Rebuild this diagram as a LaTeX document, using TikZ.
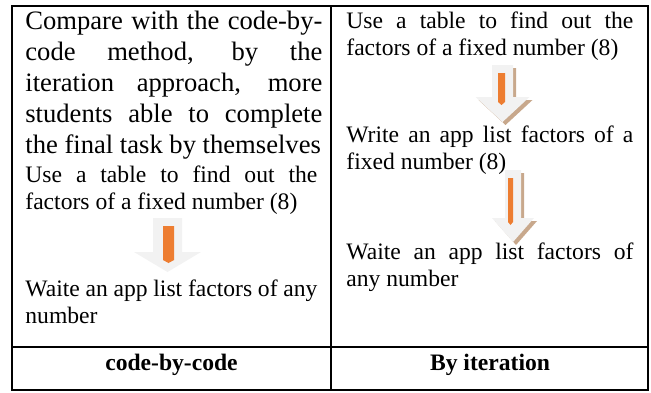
\documentclass[tikz,border=0pt]{standalone}
\usepackage{fontspec}
\setmainfont{Liberation Serif}
\definecolor{arrowgrey}{HTML}{F2F2F2}
\definecolor{arrowtan}{HTML}{C8A88C}
\definecolor{barorange}{HTML}{ED7D31}
% block arrow: #1 centre x, #2 top, #3 half shaft, #4 half head, #5 head base, #6 tip, #7 colour
\newcommand{\blockarrow}[7]{%
  \fill[#7] ({#1-#3},#2) -- ({#1+#3},#2) -- ({#1+#3},#5) -- ({#1+#4},#5) -- (#1,#6)
    -- ({#1-#4},#5) -- ({#1-#3},#5) -- cycle;}
% orange bar: #1 centre x, #2 top, #3 half width, #4 bottom
\newcommand{\orangebar}[4]{%
  \fill[barorange] ({#1-#3},#2) -- ({#1+#3},#2) -- ({#1+#3},#4) -- (#1,{#4+3})
    -- ({#1-#3},#4) -- cycle;}
\tikzset{
  celltext/.style = {anchor=base west, inner sep=0pt, align=justify,
    font=\fontsize{11.8}{13.5}\selectfont},
  cell_big/.style = {celltext, text width=148.5pt, font=\fontsize{13.3}{15.6}\selectfont},% upper left text
  cell_l/.style = {celltext, text width=146pt},% left column
  cell_r/.style = {celltext, text width=143.5pt},% right column
  cell_foot/.style = {anchor=base, inner sep=0pt, font=\fontsize{11.8}{13.5}\selectfont\bfseries}
}

\begin{document}
\begin{tikzpicture}[x=0.5pt, y=-0.5pt]
  \useasboundingbox (0,0) rectangle (651,392);
  % table frame
  \draw[line width=1pt] (12,6) rectangle (648,390);
  \draw[line width=1pt] (331,6) -- (331,390);
  \draw[line width=1pt] (12,347) -- (648,347);

  % left column
  \node [cell_big] (summary) at (25,29) {Compare with the code-by-\linebreak
    code method, by the\linebreak iteration approach, more\linebreak
    students able to complete\linebreak the final task by themselves};
  \node [cell_l] (lstep1) at (25,182) {Use a table to find out the\linebreak
    factors of a fixed number (8)};
  \blockarrow{167.5}{218}{14.5}{33.5}{252}{272}{arrowgrey}
  \orangebar{168.5}{226}{5.5}{260}
  \node [cell_l] (lstep2) at (25,296) {Waite an app list factors of any\\ number};

  % right column
  \node [cell_r] (rstep1) at (346,28) {Use a table to find out the\linebreak
    factors of a fixed number (8)};
  \blockarrow{505.5}{68}{10.5}{27}{100}{125}{arrowtan}
  \blockarrow{502.5}{65}{10.5}{27}{97}{122}{arrowgrey}
  \orangebar{501.5}{73}{3.5}{102}
  \node [cell_r] (rstep2) at (346,142) {Write an app list factors of a\linebreak
    fixed number (8)};
  \blockarrow{516}{173}{8}{21}{221}{245}{arrowtan}
  \blockarrow{513}{170}{8}{21}{218}{242}{arrowgrey}
  \orangebar{510.5}{178}{2.5}{222}
  \node [cell_r] (rstep3) at (346,259) {Waite an app list factors of\linebreak
    any number};

  % footer row
  \node [cell_foot] (lhead) at (171.5,370) {code-by-code};
  \node [cell_foot] (rhead) at (490,370) {By iteration};
\end{tikzpicture}
\end{document}
